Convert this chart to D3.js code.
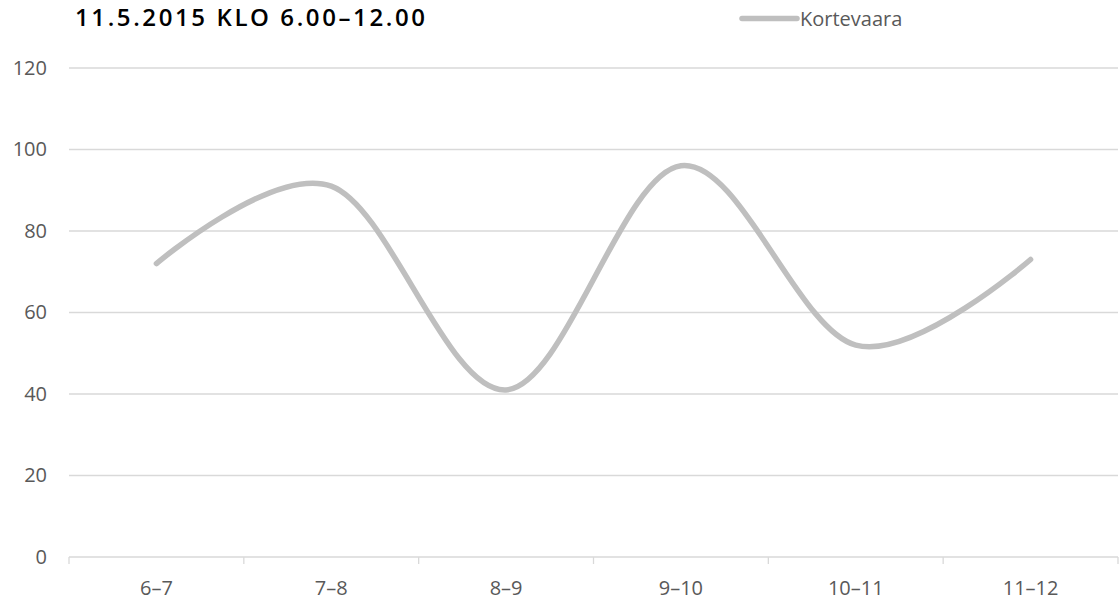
<!DOCTYPE html>
<html>
<head>
<meta charset="utf-8">
<script src="https://cdn.jsdelivr.net/npm/d3@7"></script>
<style>
  html, body { margin: 0; padding: 0; background: #fff; }
  svg { display: block; }
</style>
</head>
<body>
<svg id="chart" width="1119" height="603"></svg>
<script>
// Hourly counts, morning of 11 May 2015
const chartTitle = "11.5.2015 KLO 6.00–12.00";
const seriesName = "Kortevaara";
const categories = ["6–7", "7–8", "8–9", "9–10", "10–11", "11–12"];
const values = [72, 91, 41, 96, 52, 73];
const yTicks = [0, 20, 40, 60, 80, 100, 120];

const svg = d3.select("#chart");
const W = 1119, H = 603;
const m = { top: 68, right: 1, bottom: 46, left: 69 };

const x = d3.scaleBand().domain(categories).range([m.left, W - m.right]).padding(0);
const y = d3.scaleLinear().domain([0, 120]).range([H - m.bottom, m.top]);

const grey = "#595959";
const labelFont = "'Open Sans', sans-serif";

// horizontal gridlines
svg.append("g")
  .selectAll("line")
  .data(yTicks.filter(d => d > 0))
  .join("line")
  .attr("x1", m.left).attr("x2", W - m.right)
  .attr("y1", d => y(d)).attr("y2", d => y(d))
  .attr("stroke", "#d9d9d9").attr("stroke-width", 1.3);

// y-axis labels
const yAxis = svg.append("g")
  .attr("transform", `translate(${m.left},0)`)
  .call(d3.axisLeft(y).tickValues(yTicks).tickSize(0).tickPadding(22));
yAxis.select(".domain").remove();
yAxis.selectAll("text")
  .attr("fill", grey).attr("font-family", labelFont).attr("font-size", 20);

// category axis with boundary ticks
const xAxisG = svg.append("g").attr("transform", `translate(0,${y(0)})`);
xAxisG.append("line")
  .attr("x1", m.left).attr("x2", W - m.right)
  .attr("stroke", "#d9d9d9").attr("stroke-width", 1.3);
const bounds = categories.map(c => x(c)).concat([x(categories[categories.length - 1]) + x.bandwidth()]);
xAxisG.selectAll("line.tick")
  .data(bounds)
  .join("line")
  .attr("class", "tick")
  .attr("x1", d => d).attr("x2", d => d)
  .attr("y1", 0).attr("y2", 7)
  .attr("stroke", "#d9d9d9").attr("stroke-width", 1.3);
xAxisG.selectAll("text")
  .data(categories)
  .join("text")
  .attr("x", d => x(d) + x.bandwidth() / 2)
  .attr("y", 31)
  .attr("dy", "0.35em")
  .attr("text-anchor", "middle")
  .attr("fill", grey).attr("font-family", labelFont).attr("font-size", 20)
  .text(d => d);

// smoothed series line
const line = d3.line()
  .x((d, i) => x(categories[i]) + x.bandwidth() / 2)
  .y(d => y(d))
  .curve(d3.curveCardinal.tension(0));
svg.append("path")
  .datum(values)
  .attr("d", line)
  .attr("fill", "none")
  .attr("stroke", "#bfbfbf")
  .attr("stroke-width", 5.5)
  .attr("stroke-linecap", "round")
  .attr("stroke-linejoin", "round");

// title
svg.append("text")
  .attr("x", 75).attr("y", 26)
  .attr("font-family", "'Open Sans', sans-serif")
  .attr("font-weight", 600)
  .attr("font-size", 24)
  .attr("textLength", 350)
  .attr("lengthAdjust", "spacing")
  .attr("fill", "#000")
  .text(chartTitle);

// legend
const lg = svg.append("g").attr("transform", "translate(742,18.5)");
lg.append("line")
  .attr("x1", 0).attr("x2", 55)
  .attr("stroke", "#bfbfbf").attr("stroke-width", 5.5).attr("stroke-linecap", "round");
lg.append("text")
  .attr("x", 58).attr("y", 0).attr("dy", "0.35em")
  .attr("fill", grey).attr("font-family", labelFont).attr("font-size", 20)
  .text(seriesName);
</script>
</body>
</html>
